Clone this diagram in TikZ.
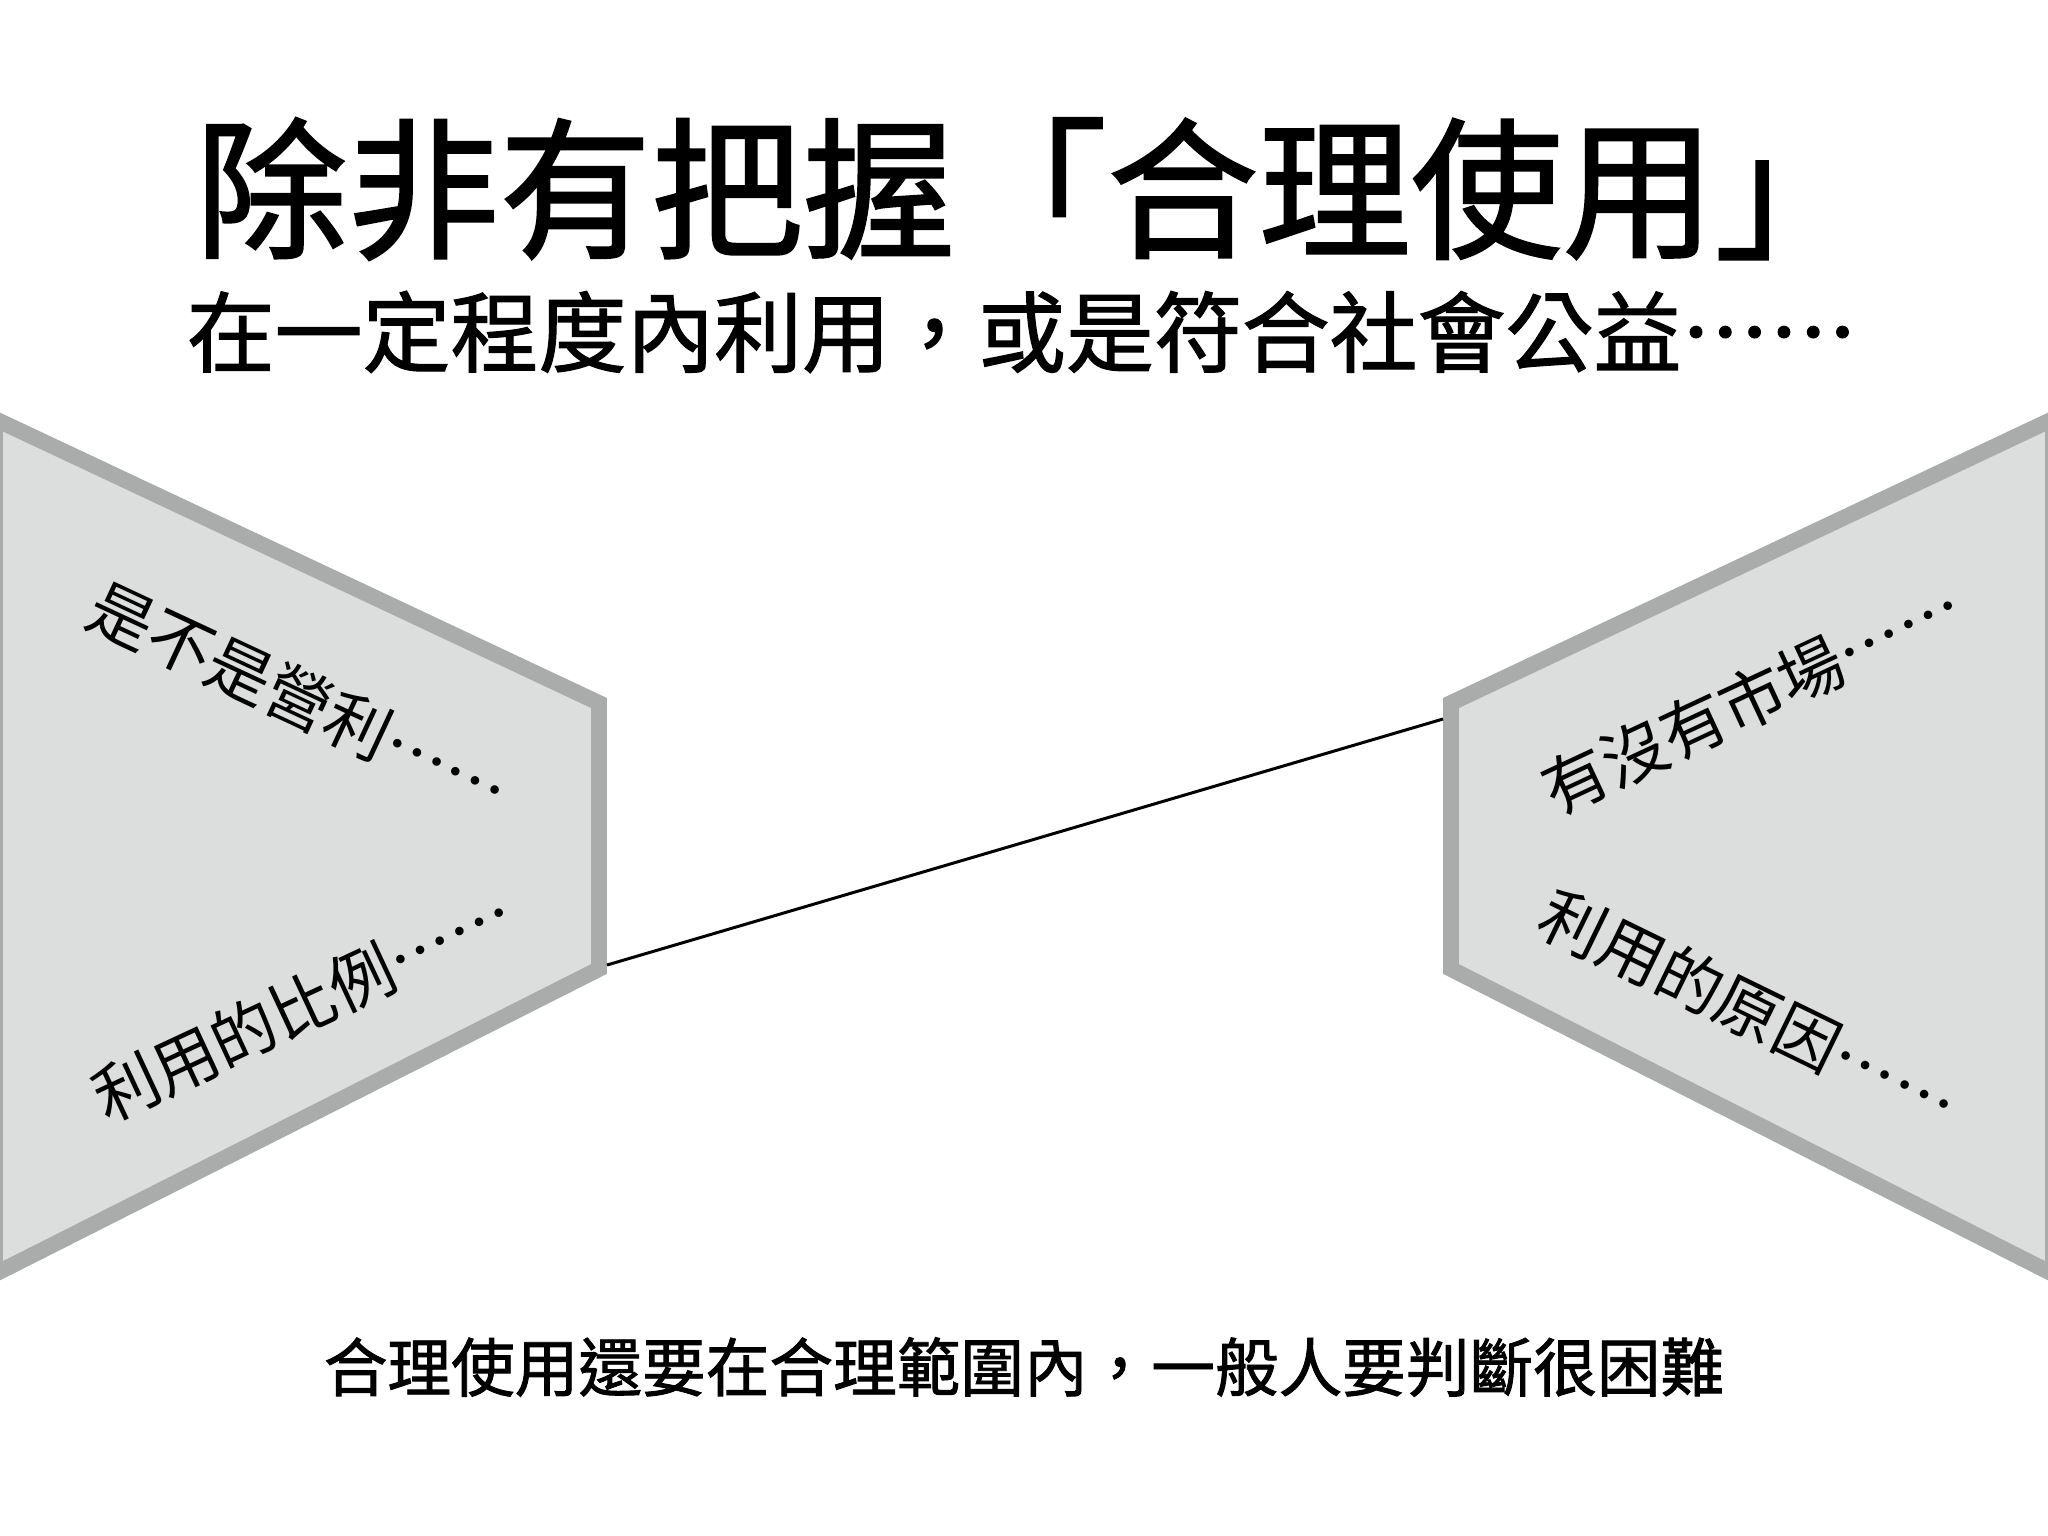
\documentclass[tikz,border=0pt]{standalone}
\usepackage{fontspec}
\setmainfont{Noto Sans CJK TC}[Script=CJK,Language=Chinese Traditional]
\newfontfamily\headfont{Noto Sans CJK TC}[Script=CJK,Language=Chinese Traditional,FakeBold=1.4]
\definecolor{edgegray}{RGB}{170,171,171}
\definecolor{panelgray}{RGB}{220,222,221}
\tikzset{
  panel/.style={draw=edgegray,fill=panelgray,line width=4.5pt,line join=miter},
  note/.style={inner sep=0pt,font=\fontsize{18.5}{20}\selectfont},
}
\begin{document}
\begin{tikzpicture}[x=0.01cm,y=-0.01cm]
\fill[white] (0,0) rectangle (2048,1536);
\useasboundingbox (0,0) rectangle (2048,1536);
% the two panels
\draw[panel] (-5,419) -- (599,703) -- (599,969) -- (-5,1274) -- cycle;
\draw[panel] (2053,419) -- (1451,703) -- (1451,969) -- (2053,1274) -- cycle;
\coordinate (lpin) at (607,965);
\coordinate (rpin) at (1443,719);
\draw[line width=0.85pt] (lpin) -- (rpin);
% headings
\node[inner sep=0pt,font=\headfont\fontsize{43.2}{46}\selectfont] (title) at (1031,189) {除非有把握「合理使用」};
\node[inner sep=0pt,font=\headfont\fontsize{25}{28}\selectfont] (sub) at (1022,332) {在一定程度內利用，或是符合社會公益……};
% panel texts
\node[note,rotate=-25] (profit) at (299,698) {是不是營利……};
\node[note,rotate=25] (ratio) at (303,1005) {利用的比例……};
\node[note,rotate=25] (market) at (1752,698) {有沒有市場……};
\node[note,rotate=-26] (reason) at (1749,1009) {利用的原因……};
% bottom line
\node[inner sep=0pt,font=\headfont\fontsize{18.1}{20}\selectfont] (foot) at (1024,1367) {合理使用還要在合理範圍內，一般人要判斷很困難};
\end{tikzpicture}
\end{document}
